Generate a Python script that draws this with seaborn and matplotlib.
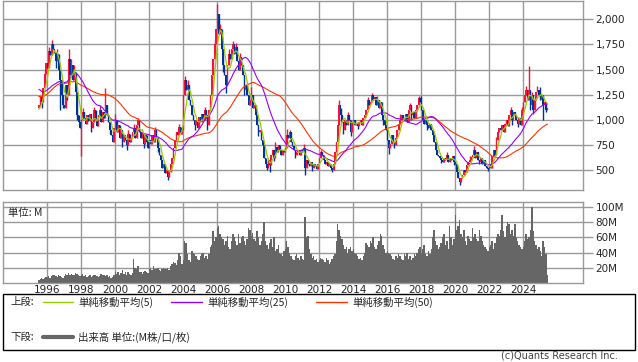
import numpy as np
import pandas as pd
import matplotlib
matplotlib.use("Agg")
import matplotlib.pyplot as plt
import seaborn as sns
from matplotlib.lines import Line2D
from matplotlib.patches import Rectangle

# closes before the visible window (Jun 1991 .. Jun 1995), only used to seed the moving averages
closes_before = [
    1250, 1200, 1150, 1180, 1120, 1100, 1050,
    1000, 1050, 980, 950, 1020, 1100, 1150, 1080, 1120, 1200, 1180, 1150,
    1200, 1250, 1300, 1400, 1450, 1380, 1420, 1500, 1450, 1400, 1350, 1300,
    1350, 1400, 1380, 1450, 1420, 1400, 1380, 1350, 1300, 1320, 1280, 1250,
    1200, 1150, 1100, 1050, 1100, 1120,
]

# monthly closes, Jul 1995 .. Jun 2025
closes = [
    1150, 1230, 1180, 1320, 1460, 1560,                               # 1995 H2
    1520, 1680, 1640, 1750, 1700, 1660, 1580, 1650, 1500, 1400, 1250, 1150,  # 1996
    1120, 1350, 1250, 1600, 1450, 1550, 1400, 1480, 1280, 1050, 980, 920,    # 1997
    1000, 1080, 1020, 960, 1050, 990, 1060, 920, 980, 1100, 1000, 940,      # 1998
    1050, 1100, 980, 1080, 1020, 1150, 1050, 980, 900, 850, 780, 920,       # 1999
    1000, 880, 950, 820, 900, 780, 850, 800, 750, 860, 780, 820,            # 2000
    880, 920, 820, 950, 1000, 880, 820, 870, 760, 850, 780, 720,            # 2001
    800, 760, 850, 780, 900, 820, 720, 650, 600, 520, 560, 470,             # 2002
    500, 430, 480, 560, 620, 720, 800, 880, 850, 930, 860, 900,             # 2003
    1250, 1400, 1300, 1350, 1200, 1150, 1050, 1000, 950, 1000, 920, 1030,   # 2004
    980, 1060, 1000, 1100, 1050, 950, 1100, 1250, 1450, 1600, 1750, 1900,   # 2005
    2050, 1850, 1900, 1700, 1550, 1450, 1350, 1550, 1650, 1600, 1700, 1750, # 2006
    1650, 1720, 1580, 1500, 1620, 1550, 1450, 1300, 1350, 1250, 1150, 1200, # 2007
    1250, 1120, 1150, 1050, 950, 880, 900, 800, 750, 620, 560, 520,         # 2008
    600, 550, 650, 700, 620, 730, 680, 750, 700, 650, 700, 680,             # 2009
    720, 850, 820, 880, 780, 740, 700, 650, 680, 700, 650, 700,             # 2010
    680, 720, 520, 600, 560, 540, 580, 520, 560, 540, 510, 560,             # 2011
    620, 680, 650, 600, 560, 580, 540, 560, 520, 500, 560, 680,             # 2012
    780, 950, 1150, 1050, 980, 900, 1000, 950, 1050, 1000, 880, 980,        # 2013
    1000, 950, 970, 940, 980, 1000, 950, 1020, 1050, 1100, 1200, 1150,      # 2014
    1180, 1250, 1200, 1230, 1150, 1200, 1120, 1180, 1050, 1000, 950, 900,   # 2015
    800, 720, 760, 850, 780, 750, 820, 900, 960, 1000, 1050, 1020,          # 2016
    1000, 1060, 980, 1100, 1150, 1050, 1080, 1020, 1100, 1150, 1220, 1180,  # 2017
    1100, 1000, 960, 1000, 950, 920, 960, 900, 850, 780, 700, 650,          # 2018
    640, 620, 600, 580, 620, 600, 650, 580, 620, 600, 640, 580,             # 2019
    560, 480, 420, 380, 420, 450, 500, 480, 550, 580, 600, 630,             # 2020
    650, 700, 620, 680, 600, 580, 620, 560, 600, 540, 520, 510,             # 2021
    560, 520, 640, 700, 650, 800, 880, 920, 900, 950, 880, 960,             # 2022
    1000, 940, 1050, 1100, 1000, 1080, 1050, 1000, 960, 1020, 950, 1100,    # 2023
    1180, 1250, 1300, 1200, 1300, 1150, 1250, 1100, 1200, 1280, 1300, 1250, # 2024
    1200, 1250, 1150, 1180, 1100, 1120,                               # 2025 H1
]

# monthly volume (M)
volumes = [
    4, 5, 6, 5, 7, 8,
    8, 9, 7, 9, 10, 11, 9, 8, 10, 9, 8, 7,
    9, 12, 10, 13, 11, 12, 10, 11, 13, 12, 10, 9,
    11, 12, 9, 10, 8, 9, 10, 8, 9, 11, 10, 9,
    8, 9, 12, 10, 11, 9, 10, 8, 9, 7, 8, 10,
    15, 12, 14, 11, 13, 17, 12, 14, 10, 15, 12, 11,
    13, 32, 20, 18, 22, 15, 14, 12, 15, 16, 14, 13,
    18, 20, 17, 22, 19, 18, 20, 17, 16, 18, 20, 19,
    18, 20, 17, 22, 25, 28, 26, 24, 30, 40, 35, 25,
    30, 55, 53, 38, 30, 28, 42, 40, 38, 35, 32, 30,
    35, 38, 40, 33, 35, 32, 38, 47, 50, 68, 55, 60,
    72, 75, 65, 60, 58, 50, 55, 62, 48, 45, 55, 65,
    60, 55, 50, 65, 52, 60, 62, 55, 50, 58, 72, 70,
    62, 66, 58, 55, 68, 60, 50, 55, 65, 80, 55, 50,
    45, 52, 58, 48, 60, 42, 45, 50, 40, 38, 35, 42,
    45, 55, 48, 40, 35, 32, 30, 35, 38, 33, 30, 36,
    32, 30, 87, 60, 62, 45, 38, 33, 35, 30, 32, 28,
    30, 33, 32, 30, 28, 33, 30, 25, 28, 32, 35, 38,
    55, 78, 70, 62, 58, 50, 45, 48, 40, 45, 48, 42,
    45, 40, 38, 35, 32, 33, 30, 35, 40, 52, 50, 48,
    55, 52, 60, 48, 45, 50, 55, 65, 62, 50, 45, 40,
    42, 40, 38, 35, 32, 30, 35, 33, 38, 35, 32, 30,
    38, 35, 40, 32, 35, 30, 33, 38, 35, 40, 45, 48,
    40, 45, 50, 38, 35, 42, 38, 45, 60, 70, 55, 50,
    45, 48, 52, 60, 65, 50, 55, 45, 75, 60, 50, 58,
    90, 70, 75, 83, 65, 60, 70, 55, 50, 62, 58, 55,
    72, 60, 65, 58, 55, 70, 62, 55, 50, 48, 45, 42,
    48, 50, 55, 45, 52, 60, 65, 62, 70, 90, 68, 60,
    75, 80, 78, 65, 70, 62, 78, 60, 55, 50, 48, 45,
    47, 55, 65, 58, 60, 70, 100, 68, 55, 50, 45, 48,
    42, 35, 55, 48, 38, 10,
]

# wick extremes
wick_high = {
    "1995-11": 1500, "1996-02": 1720, "1996-04": 1790, "1996-08": 1700, "1997-04": 1700,
    "1997-06": 1600, "1997-08": 1550, "1998-02": 1120, "1998-10": 1130, "1999-02": 1150,
    "1999-06": 1320, "2000-01": 1060, "2000-10": 900, "2001-02": 960, "2001-05": 1020,
    "2002-05": 930, "2003-10": 960, "2004-02": 1440, "2004-04": 1400, "2005-04": 1130,
    "2005-11": 1800, "2006-01": 2150, "2006-03": 1950, "2006-09": 1700, "2006-12": 1780,
    "2007-02": 1760, "2007-05": 1660, "2008-01": 1330, "2009-06": 780, "2010-02": 910,
    "2010-04": 900, "2011-02": 760, "2012-02": 700, "2013-03": 1200, "2013-04": 1120,
    "2013-09": 1080, "2014-11": 1230, "2015-02": 1270, "2015-06": 1240, "2016-10": 1060,
    "2017-05": 1170, "2017-11": 1240, "2018-01": 1240, "2019-07": 680, "2020-11": 640,
    "2021-02": 740, "2022-06": 830, "2023-04": 1130, "2023-12": 1130, "2024-03": 1340,
    "2024-05": 1540, "2024-07": 1280, "2024-11": 1340, "2025-01": 1330,
}
wick_low = {
    "1995-09": 1120, "1996-07": 1520, "1996-10": 1100, "1996-12": 1120, "1997-03": 1200,
    "1997-10": 1000, "1998-01": 640, "1998-08": 880, "1999-09": 860, "2000-06": 730,
    "2000-09": 700, "2001-09": 720, "2002-07": 680, "2003-02": 400, "2004-09": 900,
    "2005-06": 900, "2006-05": 1480, "2006-07": 1270, "2007-08": 1250, "2008-06": 840,
    "2008-12": 500, "2009-02": 480, "2009-05": 590, "2010-08": 620, "2011-03": 450,
    "2011-08": 490, "2012-10": 480, "2013-06": 860, "2013-11": 840, "2014-04": 910,
    "2015-10": 950, "2016-02": 660, "2016-06": 720, "2017-06": 1000, "2018-05": 900,
    "2019-03": 570, "2019-12": 550, "2020-04": 350, "2021-06": 560, "2021-12": 490,
    "2023-05": 950, "2023-09": 930, "2024-06": 1100, "2024-08": 1060, "2025-03": 1000,
    "2025-05": 1080,
}

price_ticks = [500, 750, 1000, 1250, 1500, 1750, 2000]
vol_ticks = [20, 40, 60, 80, 100]
year_ticks = list(range(1996, 2025, 2))

months = pd.period_range("1995-07", "2025-06", freq="M")
df = pd.DataFrame({"month": months.strftime("%Y-%m"), "close": closes, "volume": volumes})
df["t"] = months.year + (months.month - 1) / 12
df["open"] = df["close"].shift(1).fillna(closes_before[-1])
df["high"] = df[["open", "close"]].max(axis=1)
df["low"] = df[["open", "close"]].min(axis=1)
for m, v in wick_high.items():
    df.loc[df["month"] == m, "high"] = v
for m, v in wick_low.items():
    df.loc[df["month"] == m, "low"] = v

full = pd.Series(closes_before + closes)
for n in (5, 25, 50):
    df[f"ma{n}"] = full.rolling(n, min_periods=1).mean().iloc[len(closes_before):].values

UP, DOWN = "#f5123c", "#003399"
GRID = "#999999"

sns.set_style("white")
plt.rcParams["font.family"] = ["DejaVu Sans"]
JP = ["Noto Sans CJK JP", "DejaVu Sans"]

fig = plt.figure(figsize=(6.38, 3.62), dpi=100)
W, H = 638, 362
ax_p = fig.add_axes([3 / W, 1 - 190 / H, 580 / W, 189 / H])
ax_v = fig.add_axes([3 / W, 1 - 283 / H, 580 / W, 81 / H])

# candles
up = df["close"] >= df["open"]
colors = np.where(up, UP, DOWN)
body_lo = df[["open", "close"]].min(axis=1)
body_h = (df["close"] - df["open"]).abs().clip(lower=8)
ax_p.vlines(df["t"], df["low"], df["high"], colors=colors, linewidth=1.0, zorder=2)
ax_p.bar(df["t"], body_h, bottom=body_lo, width=0.09, color=colors, linewidth=0, zorder=2)

sns.lineplot(data=df, x="t", y="ma50", ax=ax_p, color="#ff3300", linewidth=0.8, zorder=3)
sns.lineplot(data=df, x="t", y="ma25", ax=ax_p, color="#9900ff", linewidth=0.8, zorder=3)
sns.lineplot(data=df, x="t", y="ma5", ax=ax_p, color="#99cc00", linewidth=0.9, zorder=4)

ax_v.bar(df["t"], df["volume"], width=1 / 12, color="#666666", linewidth=0, zorder=2)

for ax in (ax_p, ax_v):
    ax.set_xlim(1993.39, 2027.51)
    ax.set_xticks(year_ticks)
    ax.grid(True, color=GRID, linewidth=1)
    ax.set_axisbelow(True)
    ax.set_xlabel("")
    ax.set_ylabel("")
    for s in ax.spines.values():
        s.set_color(GRID)
        s.set_linewidth(1)
    ax.yaxis.tick_right()
    ax.tick_params(axis="y", length=7, width=1, color=GRID, pad=2, labelsize=7.5)
    ax.tick_params(axis="x", length=0, labelsize=7.5, pad=1.5)

ax_p.set_ylim(301, 2182)
ax_p.set_yticks(price_ticks)
ax_p.set_yticklabels([f"{v:,}" for v in price_ticks])
ax_p.tick_params(axis="x", labelbottom=False)

ax_v.set_ylim(0, 106.6)
ax_v.set_yticks(vol_ticks)
ax_v.set_yticklabels([f"{v}M" for v in vol_ticks])
ax_v.text(0.008, 0.93, "単位: M", transform=ax_v.transAxes, ha="left", va="top",
          fontsize=7.5, family=JP, zorder=5)

# legend box
fig.patches.append(Rectangle((3 / W, 1 - 350 / H), 632 / W, 56 / H, transform=fig.transFigure,
                             fill=False, edgecolor="black", linewidth=1))

def fx(x):
    return x / W

def fy(y):
    return 1 - y / H

fig.text(fx(10), fy(302), "上段:", fontsize=7.5, family=JP, va="center")
items = [(43, 73, 78, "#99cc00", "単純移動平均(5)"),
         (171, 202, 207, "#9900ff", "単純移動平均(25)"),
         (316, 347, 352, "#ff3300", "単純移動平均(50)")]
for x0, x1, xt, c, lab in items:
    fig.lines.append(Line2D([fx(x0), fx(x1)], [fy(302), fy(302)], color=c, linewidth=1,
                            transform=fig.transFigure))
    fig.text(fx(xt), fy(302), lab, fontsize=7.5, family=JP, va="center")

fig.text(fx(10), fy(337), "下段:", fontsize=7.5, family=JP, va="center")
fig.lines.append(Line2D([fx(43), fx(73)], [fy(337), fy(337)], color="#666666", linewidth=3,
                        transform=fig.transFigure))
fig.text(fx(78), fy(337), "出来高 単位:(M株/口/枚)", fontsize=7.5, family=JP, va="center")

fig.text(fx(618), fy(356), "(c)Quants Research Inc.", fontsize=7, color="#444444",
         ha="right", va="center")

fig.savefig("out.png", dpi=100, facecolor="white")
